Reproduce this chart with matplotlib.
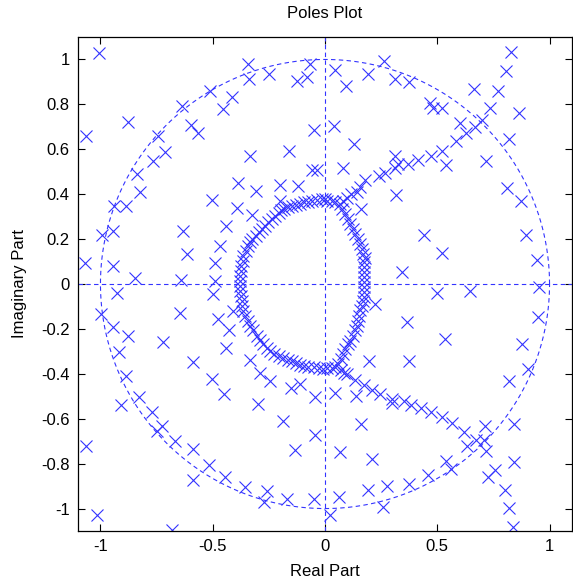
import numpy as np
import matplotlib
matplotlib.use("Agg")
from matplotlib import pyplot as plt

plt.rcParams['font.family'] = ['Liberation Sans', 'DejaVu Sans']
plt.rcParams['axes.unicode_minus'] = False

# inner closed loop of poles, left half (top -> bottom)
ring_left = [
    (0.0, 0.38), (-0.015, 0.378), (-0.037, 0.372), (-0.056, 0.37), (-0.074, 0.366),
    (-0.093, 0.363), (-0.111, 0.356), (-0.13, 0.351), (-0.148, 0.346), (-0.163, 0.341),
    (-0.181, 0.334), (-0.195, 0.328), (-0.207, 0.318), (-0.222, 0.304), (-0.237, 0.289),
    (-0.252, 0.274), (-0.267, 0.259), (-0.279, 0.247), (-0.296, 0.232), (-0.308, 0.215),
    (-0.323, 0.2), (-0.333, 0.185), (-0.344, 0.17), (-0.353, 0.148), (-0.363, 0.126),
    (-0.367, 0.104), (-0.373, 0.081), (-0.373, 0.059), (-0.378, 0.037), (-0.378, 0.015),
    (-0.378, -0.008), (-0.378, -0.03), (-0.373, -0.052), (-0.37, -0.074), (-0.37, -0.096),
    (-0.363, -0.119), (-0.356, -0.141), (-0.344, -0.163), (-0.333, -0.185), (-0.319, -0.207),
    (-0.304, -0.23), (-0.289, -0.248), (-0.274, -0.267), (-0.259, -0.284), (-0.244, -0.3),
    (-0.225, -0.311), (-0.207, -0.322), (-0.185, -0.331), (-0.166, -0.338), (-0.148, -0.345),
    (-0.13, -0.351), (-0.111, -0.36), (-0.093, -0.363), (-0.074, -0.368), (-0.047, -0.37),
    (-0.027, -0.375), (-0.007, -0.378),
]

# inner loop, right half (top -> bottom)
ring_right = [
    (0.007, 0.37), (0.03, 0.37), (0.044, 0.363), (0.067, 0.355), (0.074, 0.333),
    (0.089, 0.311), (0.104, 0.289), (0.111, 0.266), (0.126, 0.244), (0.133, 0.222),
    (0.148, 0.2), (0.156, 0.178), (0.163, 0.155), (0.17, 0.133), (0.178, 0.118),
    (0.175, 0.096), (0.175, 0.074), (0.175, 0.052), (0.175, 0.03), (0.175, 0.007),
    (0.175, -0.015), (0.175, -0.037), (0.175, -0.059), (0.17, -0.074), (0.165, -0.096),
    (0.158, -0.118), (0.152, -0.141), (0.148, -0.163), (0.141, -0.185), (0.133, -0.207),
    (0.126, -0.23), (0.111, -0.252), (0.104, -0.267), (0.089, -0.289), (0.081, -0.311),
    (0.07, -0.333), (0.059, -0.355), (0.044, -0.37), (0.03, -0.375), (0.007, -0.375),
]

# branch leaving the loop towards the upper right
arm_upper = [
    (0.081, 0.37), (0.096, 0.385), (0.118, 0.4), (0.141, 0.41), (0.156, 0.43),
    (0.179, 0.465), (0.239, 0.48), (0.267, 0.496), (0.311, 0.518), (0.326, 0.533),
    (0.37, 0.536), (0.415, 0.551), (0.47, 0.57), (0.523, 0.592), (0.582, 0.637),
    (0.627, 0.674), (0.667, 0.699), (0.701, 0.729), (0.733, 0.785), (0.77, 0.859),
    (0.804, 0.948), (0.827, 1.034),
]

# branch leaving the loop towards the lower right
arm_lower = [
    (0.07, -0.385), (0.085, -0.395), (0.098, -0.403), (0.135, -0.427), (0.172, -0.452),
    (0.209, -0.471), (0.246, -0.489), (0.297, -0.511), (0.298, -0.528), (0.35, -0.521),
    (0.383, -0.538), (0.428, -0.554), (0.471, -0.569), (0.52, -0.593), (0.567, -0.62),
    (0.621, -0.657), (0.632, -0.72), (0.671, -0.695), (0.71, -0.696), (0.711, -0.634),
    (0.717, -0.743), (0.755, -0.828), (0.725, -0.858), (0.8, -0.916), (0.819, -0.998),
    (0.838, -1.08),
]

# remaining poles
scatter_ul = [
    (-1.005, 1.028), (-1.066, 0.659), (-0.878, 0.723), (-0.342, 0.98), (-0.339, 0.914),
    (-0.25, 0.936), (-0.065, 0.98), (-0.124, 0.902), (-0.08, 0.921), (-0.513, 0.858),
    (-0.416, 0.831), (-0.456, 0.78), (-0.639, 0.791), (-0.597, 0.709), (-0.564, 0.671),
    (-0.744, 0.658), (-0.712, 0.587), (-0.764, 0.549), (-0.838, 0.492), (-0.825, 0.408),
    (-0.938, 0.349), (-0.886, 0.349), (-0.994, 0.22), (-0.945, 0.235), (-1.071, 0.092),
    (-0.945, 0.08), (-0.846, 0.025), (-0.05, 0.684), (-0.159, 0.594), (-0.332, 0.569),
    (-0.06, 0.506), (-0.036, 0.506), (-0.388, 0.452), (-0.306, 0.414), (-0.2, 0.443),
    (-0.12, 0.436), (-0.505, 0.373), (-0.394, 0.337), (-0.327, 0.307), (-0.2, 0.369),
    (-0.44, 0.258), (-0.634, 0.235), (-0.616, 0.132), (-0.466, 0.169), (-0.488, 0.094),
    (-0.643, 0.016), (-0.489, 0.012),
]

scatter_ll = [
    (-0.927, -0.042), (-0.997, -0.133), (-0.945, -0.19), (-0.878, -0.23), (-0.917, -0.304),
    (-0.885, -0.41), (-0.83, -0.504), (-0.91, -0.537), (-0.769, -0.57), (-0.725, -0.633),
    (-0.747, -0.655), (-1.065, -0.723), (-0.668, -0.699), (-0.586, -0.736), (-0.586, -0.874),
    (-0.515, -0.804), (-0.446, -0.859), (-0.357, -0.904), (-0.26, -0.922), (-0.271, -0.971),
    (-0.168, -0.956), (-0.049, -0.959), (-1.016, -1.03), (-0.68, -1.097), (-0.723, -0.26),
    (-0.646, -0.129), (-0.59, -0.348), (-0.499, -0.045), (-0.478, -0.156), (-0.428, -0.203),
    (-0.441, -0.286), (-0.502, -0.425), (-0.45, -0.492), (-0.332, -0.337), (-0.288, -0.396),
    (-0.243, -0.433), (-0.3, -0.536), (-0.189, -0.612), (-0.132, -0.741), (-0.153, -0.462),
    (-0.113, -0.447), (-0.043, -0.504), (-0.043, -0.674), (-0.408, -0.119),
]

scatter_ur = [
    (0.046, 0.954), (0.191, 0.936), (0.263, 0.991), (0.31, 0.914), (0.375, 0.899),
    (0.093, 0.883), (0.467, 0.807), (0.481, 0.785), (0.523, 0.782), (0.041, 0.702),
    (0.13, 0.625), (0.6, 0.718), (0.819, 0.645), (0.716, 0.548), (0.079, 0.517),
    (0.311, 0.57), (0.538, 0.53), (0.812, 0.427), (0.874, 0.369), (0.316, 0.398),
    (0.161, 0.336), (0.895, 0.216), (0.441, 0.22), (0.523, 0.136), (0.942, 0.109),
    (0.342, 0.053), (0.664, 0.87), (0.864, 0.76),
]

scatter_lr = [
    (0.646, -0.03), (0.953, -0.015), (0.501, -0.042), (0.365, -0.17), (0.535, -0.247),
    (0.375, -0.341), (0.196, -0.342), (0.044, -0.484), (0.138, -0.5), (0.161, -0.622),
    (0.068, -0.748), (0.209, -0.781), (0.538, -0.787), (0.56, -0.826), (0.458, -0.85),
    (0.372, -0.89), (0.278, -0.899), (0.191, -0.919), (0.064, -0.948), (0.024, -1.03),
    (0.257, -0.993), (0.223, -0.09), (0.841, -0.625), (0.843, -0.793), (0.819, -0.433),
    (0.902, -0.378), (0.876, -0.267), (0.947, -0.145),
]

x_ticks = [-1, -0.5, 0, 0.5, 1]
x_tick_labels = ['-1', '-0.5', '0', '0.5', '1']
y_ticks = [-1, -0.8, -0.6, -0.4, -0.2, 0, 0.2, 0.4, 0.6, 0.8, 1]
y_tick_labels = ['-1', '-0.8', '-0.6', '-0.4', '-0.2', '0', '0.2', '0.4', '0.6', '0.8', '1']

blue = '#3333ff'

fig = plt.figure(figsize=(5.73, 5.85), dpi=100)
ax = fig.add_axes([78 / 573, 54 / 585, 494 / 573, 494 / 585])

# unit circle and the real / imaginary axes
t = np.linspace(0, 2 * np.pi, 400)
dash = (0, (4, 3))
ax.plot(np.cos(t), np.sin(t), color=blue, lw=0.8, ls=dash)
ax.plot([-1.1, 1.1], [0, 0], color=blue, lw=0.8, ls=dash)
ax.plot([0, 0], [-1.1, 1.1], color=blue, lw=0.8, ls=dash)

poles = np.array(ring_left + ring_right + arm_upper + arm_lower
                 + scatter_ul + scatter_ll + scatter_ur + scatter_lr)
ax.plot(poles[:, 0], poles[:, 1], 'x', color=blue, ms=8, mew=0.8)

ax.set_xlim(-1.1, 1.1)
ax.set_ylim(-1.1, 1.1)
ax.set_xticks(x_ticks)
ax.set_xticklabels(x_tick_labels)
ax.set_yticks(y_ticks)
ax.set_yticklabels(y_tick_labels)
ax.tick_params(direction='in', length=5, width=0.8, top=True, right=True,
               labelsize=12, pad=6)
for s in ax.spines.values():
    s.set_linewidth(0.9)

ax.set_title('Poles Plot', fontsize=12, pad=14)
ax.set_xlabel('Real Part', fontsize=12, labelpad=7)
ax.set_ylabel('Imaginary Part', fontsize=12, labelpad=10)

fig.savefig('out.png', dpi=100)
